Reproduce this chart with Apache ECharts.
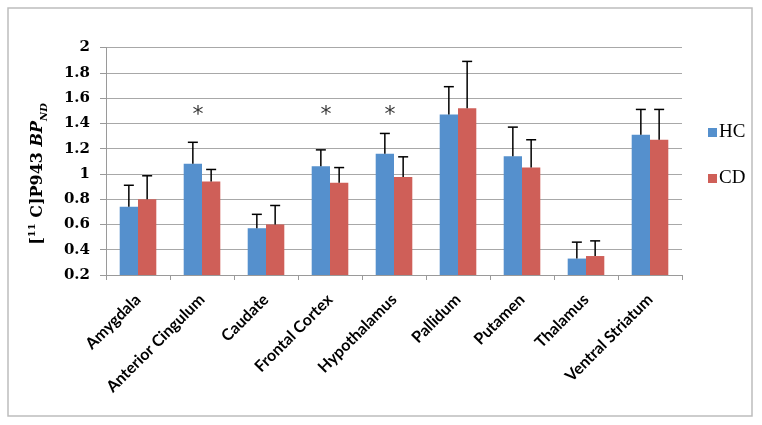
<!DOCTYPE html>
<html><head><meta charset="utf-8">
<script src="https://cdn.jsdelivr.net/npm/echarts@6/dist/echarts.min.js"></script>
<style>html,body{margin:0;padding:0;background:#fff}#c{width:762px;height:425px}</style>
</head><body><div id="c"></div>
<script>
const categories = ['Amygdala','Anterior Cingulum','Caudate','Frontal Cortex','Hypothalamus','Pallidum','Putamen','Thalamus','Ventral Striatum'];
const hcValues = [0.74, 1.08, 0.57, 1.06, 1.16, 1.47, 1.14, 0.33, 1.31];
const hcErrTop = [0.91, 1.25, 0.68, 1.19, 1.32, 1.69, 1.37, 0.46, 1.51];
const cdValues = [0.80, 0.94, 0.60, 0.93, 0.975, 1.52, 1.05, 0.35, 1.27];
const cdErrTop = [0.985, 1.035, 0.75, 1.05, 1.135, 1.89, 1.27, 0.47, 1.51];
const stars = [null, 1.49, null, 1.49, 1.49, null, null, null, null];
const yTicks = {min: 0.2, max: 2, interval: 0.2};

const BAR_FRAC = 0.286;
const chart = echarts.init(document.getElementById('c'));

function errSeries(name, vals, tops, side, z) {
  return {
    type: 'custom', name: name + '_err', z: z,
    data: vals.map((v, i) => [i, v, tops[i]]),
    renderItem: function (params, api) {
      const bw = api.size([1, 0])[0] * BAR_FRAC;
      const base = api.coord([api.value(0), api.value(1)]);
      const top = api.coord([api.value(0), api.value(2)]);
      const x = base[0] + side * bw / 2;
      const cap = 5;
      const st = {stroke: '#000', lineWidth: 1.5};
      return {type: 'group', children: [
        {type: 'line', shape: {x1: x, y1: base[1], x2: x, y2: top[1]}, style: st},
        {type: 'line', shape: {x1: x - cap, y1: top[1], x2: x + cap, y2: top[1]}, style: st}
      ]};
    },
    silent: true
  };
}

chart.setOption({
  animation: false,
  grid: {left: 106, right: 80, top: 47.5, bottom: 150},
  legend: {
    orient: 'vertical', left: 703, top: 118, itemGap: 27,
    itemWidth: 9, itemHeight: 9, icon: 'rect',
    textStyle: {fontFamily: 'Liberation Serif', fontSize: 19, color: '#000', padding: [0, 0, 0, -3]},
    data: ['HC', 'CD']
  },
  xAxis: {
    type: 'category', data: categories,
    axisLine: {lineStyle: {color: '#9a9a9a', width: 1}},
    axisTick: {show: true, length: 5, lineStyle: {color: '#9a9a9a'}},
    axisLabel: {rotate: 45, interval: 0, margin: 22, fontFamily: 'Lato', fontWeight: 'bold', fontSize: 16, color: '#000'}
  },
  yAxis: {
    type: 'value', min: yTicks.min, max: yTicks.max, interval: yTicks.interval,
    axisLine: {show: true, lineStyle: {color: '#9a9a9a'}},
    axisTick: {show: true, length: 6, lineStyle: {color: '#9a9a9a'}},
    splitLine: {lineStyle: {color: '#a8a8a8', width: 1}},
    axisLabel: {margin: 16, fontFamily: 'DejaVu Serif', fontWeight: 'bold', fontSize: 15, color: '#000',
      formatter: v => String(+v.toFixed(1))}
  },
  series: [
    {type: 'bar', name: 'HC', data: hcValues, barWidth: (BAR_FRAC * 100) + '%', barGap: '0%', itemStyle: {color: '#5590cd'}},
    {type: 'bar', name: 'CD', data: cdValues, barWidth: (BAR_FRAC * 100) + '%', barGap: '0%', itemStyle: {color: '#cf5f58'}},
    errSeries('HC', hcValues, hcErrTop, -1, 5),
    errSeries('CD', cdValues, cdErrTop, 1, 5),
    {type: 'scatter', name: 'stars', data: stars, symbolSize: 0, silent: true,
      label: {show: true, formatter: '*', position: 'inside', offset: [-4, 3], fontFamily: 'DejaVu Sans', fontSize: 22, color: '#000'}}
  ],
  graphic: [
    {type: 'rect', shape: {x: 8, y: 8, width: 744, height: 408}, style: {fill: 'none', stroke: '#bdbdbd', lineWidth: 1.5}, silent: true},
    {type: 'text', x: 38, y: 174, rotation: Math.PI / 2,
      style: {
        text: '[{sup|11} C]P943 {bi|BP}{sub|ND}',
        align: 'center', verticalAlign: 'middle',
        fontFamily: 'DejaVu Serif', fontWeight: 'bold', fontSize: 16, fill: '#000',
        rich: {
          sup: {fontFamily: 'DejaVu Serif', fontWeight: 'bold', fontSize: 10, verticalAlign: 'top', lineHeight: 22},
          bi: {fontFamily: 'DejaVu Serif', fontWeight: 'bold', fontStyle: 'italic', fontSize: 16, lineHeight: 22},
          sub: {fontFamily: 'DejaVu Serif', fontWeight: 'bold', fontStyle: 'italic', fontSize: 10, verticalAlign: 'bottom', lineHeight: 22}
        }
      }}
  ]
});
</script></body></html>
